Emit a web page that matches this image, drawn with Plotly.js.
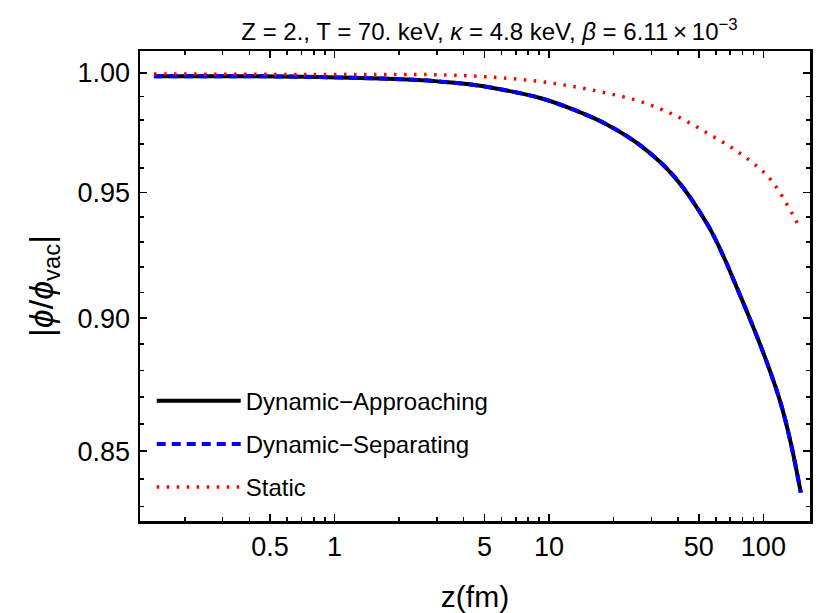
<!DOCTYPE html>
<html>
<head>
<meta charset="utf-8">
<script src="https://cdn.plot.ly/plotly-3.0.1.min.js"></script>
<style>
  html, body { margin: 0; padding: 0; background: #fff; }
  #plot { width: 819px; height: 613px; }
</style>
</head>
<body>
<div id="plot"></div>
<script>
// Separation z (fm) at which the screened potential ratio was evaluated
const zDynamic = [0.1436, 0.698, 2.443, 3.137, 4.485, 6.420, 9.177, 13.12, 18.78, 26.85, 38.38, 54.95, 65.66, 73.10, 87.45, 104.6, 120.7, 134.4, 149.5];
// |phi/phi_vac| for the approaching pair
const phiApproaching = [0.99858, 0.99841, 0.99700, 0.99627, 0.99486, 0.99243, 0.98920, 0.98424, 0.97792, 0.96915, 0.95646, 0.93685, 0.92359, 0.91435, 0.89879, 0.88237, 0.86749, 0.85285, 0.83501];
// |phi/phi_vac| for the separating pair (coincides with the approaching one)
const phiSeparating = [0.99858, 0.99841, 0.99700, 0.99627, 0.99486, 0.99243, 0.98920, 0.98424, 0.97792, 0.96915, 0.95646, 0.93685, 0.92359, 0.91435, 0.89879, 0.88237, 0.86749, 0.85285, 0.83501];

// Static screening
const zStatic = [0.1436, 0.698, 3.311, 6.420, 9.177, 13.12, 18.78, 26.85, 38.38, 54.95, 78.55, 108.4, 144.8, 149.5];
const phiStatic = [0.99957, 0.99936, 0.99914, 0.99773, 0.99627, 0.99413, 0.99132, 0.98775, 0.98213, 0.97443, 0.96582, 0.95510, 0.93725, 0.93520];

// Axis ticks
const xTickVals = [0.5, 1, 5, 10, 50, 100];
const xTickText = ['0.5', '1', '5', '10', '50', '100'];
const xMinorVals = [0.2, 0.3, 0.4, 0.6, 0.7, 0.8, 0.9, 2, 3, 4, 6, 7, 8, 9, 20, 30, 40, 60, 70, 80, 90];
const yTickVals = [0.85, 0.90, 0.95, 1.00];
const yTickText = ['0.85', '0.90', '0.95', '1.00'];
const yMinorVals = [0.83, 0.84, 0.86, 0.87, 0.88, 0.89, 0.91, 0.92, 0.93, 0.94, 0.96, 0.97, 0.98, 0.99];

const FONT = 'Liberation Sans, Arial, sans-serif';

const traces = [
  {
    x: zDynamic, y: phiApproaching, name: 'Dynamic\u2212Approaching',
    type: 'scatter', mode: 'lines', line: { color: '#000000', width: 4, shape: 'spline', smoothing: 1 },
    legendgroup: 'a'
  },
  {
    x: zDynamic, y: phiSeparating, name: 'Dynamic\u2212Separating',
    type: 'scatter', mode: 'lines', line: { color: '#0000ff', width: 4, dash: '9px,6px', shape: 'spline', smoothing: 1 },
    legendgroup: 'b'
  },
  {
    x: zStatic, y: phiStatic, name: 'Static',
    type: 'scatter', mode: 'lines', line: { color: '#ff0000', width: 3.5, dash: '2.5px,7.5px', shape: 'spline', smoothing: 1 },
    legendgroup: 'c'
  }
];

const axisCommon = {
  showline: true, linecolor: '#000', linewidth: 2.5, mirror: 'ticks',
  ticks: 'inside', ticklen: 7, tickwidth: 1.5, tickcolor: '#000',
  showgrid: false, zeroline: false,
  tickfont: { family: FONT, size: 27, color: '#000' }
};

const layout = {
  width: 819, height: 613,
  margin: { l: 140, r: 9, t: 51, b: 92 },
  paper_bgcolor: '#fff', plot_bgcolor: '#fff',
  font: { family: FONT, color: '#000' },
  title: {
    text: 'Z = 2., T = 70. keV, <i>\u03ba</i> = 4.8 keV, <i>\u03b2</i> = 6.11\u2009\u00d7\u200910<sup>\u22123</sup>',
    font: { family: FONT, size: 24, color: '#000' },
    x: 0.5977, xanchor: 'center', y: 0.949, yanchor: 'middle'
  },
  xaxis: Object.assign({}, axisCommon, {
    type: 'log',
    range: [Math.log10(0.1236), Math.log10(165)],
    tickmode: 'array', tickvals: xTickVals, ticktext: xTickText,
    minor: { tickmode: 'array', tickvals: xMinorVals, ticks: 'inside', ticklen: 4, tickwidth: 1.5, tickcolor: '#000' },
    title: { text: 'z(fm)', font: { family: FONT, size: 30, color: '#000' }, standoff: 28 }
  }),
  yaxis: Object.assign({}, axisCommon, {
    type: 'log',
    range: [Math.log10(0.8249), Math.log10(1.00949)],
    tickmode: 'array', tickvals: yTickVals, ticktext: yTickText,
    minor: { tickmode: 'array', tickvals: yMinorVals, ticks: 'inside', ticklen: 4, tickwidth: 1.5, tickcolor: '#000' },
    ticklabelstandoff: 2,
    title: { text: '|<i>\u03d5</i>/<i>\u03d5</i><sub>vac</sub>|', font: { family: FONT, size: 34, color: '#000' }, standoff: 14 }
  }),
  showlegend: true,
  legend: {
    x: 0.0175, y: 0.303, xanchor: 'left', yanchor: 'top',
    bgcolor: 'rgba(0,0,0,0)', borderwidth: 0,
    font: { family: FONT, size: 24, color: '#000' },
    itemwidth: 84, tracegroupgap: 9, traceorder: 'grouped'
  }
};

Plotly.newPlot('plot', traces, layout, { displayModeBar: false, staticPlot: true });
</script>
</body>
</html>
